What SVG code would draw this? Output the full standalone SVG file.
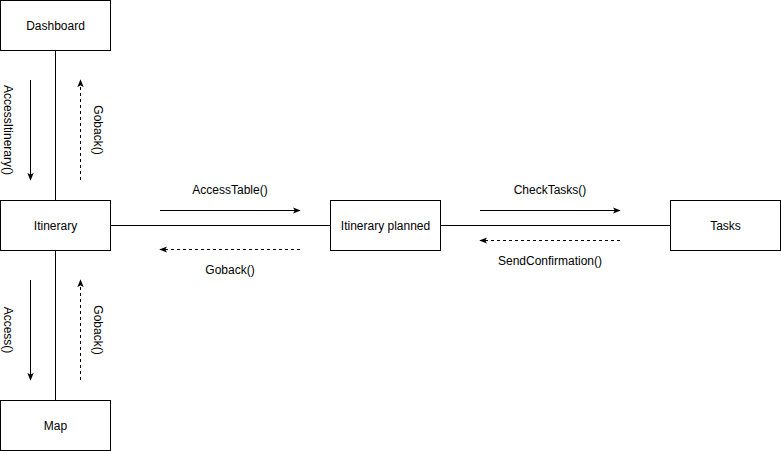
<svg xmlns="http://www.w3.org/2000/svg" width="781" height="451" viewBox="0 0 781 451">
<style>
.box{fill:#fff;stroke:#000;stroke-width:1}
.lbl{font-family:"Liberation Sans",Arial,sans-serif;font-size:12px;fill:#000;text-anchor:middle;dominant-baseline:central}
.ln{stroke:#000;stroke-width:1;fill:none}
.dash{stroke-dasharray:3 3}
</style>
<defs>
<marker id="ah" viewBox="0 0 10 10" refX="9" refY="5" markerWidth="8" markerHeight="8" markerUnits="userSpaceOnUse" orient="auto">
<path d="M0,1 L10,5 L0,9 L2.5,5 Z" fill="#000"/>
</marker>
</defs>
<rect width="781" height="451" fill="#fff"/>
<g id="connectors">
<line class="ln" x1="55.5" y1="50.5" x2="55.5" y2="200.5"/>
<line class="ln" x1="55.5" y1="250.5" x2="55.5" y2="400.5"/>
<line class="ln" x1="110.5" y1="225.5" x2="330.5" y2="225.5"/>
<line class="ln" x1="440.5" y1="225.5" x2="670.5" y2="225.5"/>
<line class="ln" x1="30.5" y1="80" x2="30.5" y2="180" marker-end="url(#ah)"/>
<line class="ln dash" x1="80.5" y1="180" x2="80.5" y2="80" marker-end="url(#ah)"/>
<line class="ln" x1="30.5" y1="280" x2="30.5" y2="380" marker-end="url(#ah)"/>
<line class="ln dash" x1="80.5" y1="380" x2="80.5" y2="280" marker-end="url(#ah)"/>
<line class="ln" x1="160" y1="210.5" x2="300" y2="210.5" marker-end="url(#ah)"/>
<line class="ln dash" x1="300" y1="249.5" x2="160" y2="249.5" marker-end="url(#ah)"/>
<line class="ln" x1="480" y1="210.5" x2="620" y2="210.5" marker-end="url(#ah)"/>
<line class="ln dash" x1="620" y1="240.5" x2="480" y2="240.5" marker-end="url(#ah)"/>
<text class="lbl" transform="translate(8,130) rotate(90)">AccessItinerary()</text>
<text class="lbl" transform="translate(98,130) rotate(90)">Goback()</text>
<text class="lbl" transform="translate(8,330) rotate(90)">Access()</text>
<text class="lbl" transform="translate(98,330) rotate(90)">Goback()</text>
<text class="lbl" x="230" y="190">AccessTable()</text>
<text class="lbl" x="230" y="270">Goback()</text>
<text class="lbl" x="550" y="190">CheckTasks()</text>
<text class="lbl" x="550" y="261">SendConfirmation()</text>
</g>
<g id="dashboard"><rect class="box" x="0.5" y="0.5" width="110" height="50"/><text class="lbl" x="55.5" y="25.5">Dashboard</text></g>
<g id="itinerary"><rect class="box" x="0.5" y="200.5" width="110" height="50"/><text class="lbl" x="55.5" y="225.5">Itinerary</text></g>
<g id="map"><rect class="box" x="0.5" y="400.5" width="110" height="50"/><text class="lbl" x="55.5" y="425.5">Map</text></g>
<g id="itinerary-planned"><rect class="box" x="330.5" y="200.5" width="110" height="50"/><text class="lbl" x="385.5" y="225.5">Itinerary planned</text></g>
<g id="tasks"><rect class="box" x="670.5" y="200.5" width="110" height="50"/><text class="lbl" x="725.5" y="225.5">Tasks</text></g>
</svg>
